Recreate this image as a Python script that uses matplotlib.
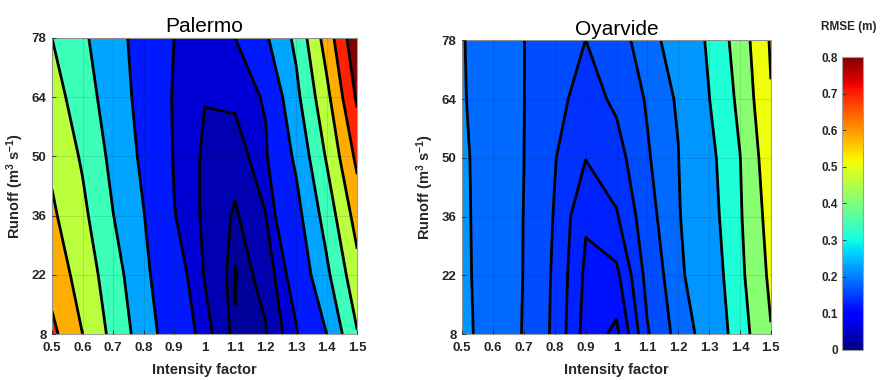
import matplotlib
matplotlib.use("Agg")
import matplotlib.pyplot as plt
import numpy as np

plt.rcParams['font.family'] = ['Liberation Sans', 'DejaVu Sans']
plt.rcParams['mathtext.fontset'] = 'custom'
plt.rcParams['mathtext.rm'] = 'Liberation Sans'
plt.rcParams['mathtext.bf'] = 'Liberation Sans:bold'
plt.rcParams['mathtext.default'] = 'bf'
plt.rcParams['axes.unicode_minus'] = False

# grid of the simulations
intensity = [0.5, 0.6, 0.7, 0.8, 0.9, 1.0, 1.1, 1.2, 1.3, 1.4, 1.5]
runoff = [8, 22, 36, 50, 64, 78]
x_labels = ["0.5", "0.6", "0.7", "0.8", "0.9", "1", "1.1", "1.2", "1.3", "1.4", "1.5"]
cbar_ticks = [0, 0.1, 0.2, 0.3, 0.4, 0.5, 0.6, 0.7, 0.8]
cbar_labels = ["0", "0.1", "0.2", "0.3", "0.4", "0.5", "0.6", "0.7", "0.8"]

# RMSE (m), rows = runoff, columns = intensity factor
rmse_palermo = [
    [0.625, 0.500, 0.372, 0.251, 0.140, 0.083, 0.031, 0.038, 0.095, 0.200, 0.395],
    [0.560, 0.460, 0.343, 0.222, 0.124, 0.068, 0.029, 0.048, 0.124, 0.280, 0.467],
    [0.516, 0.423, 0.302, 0.203, 0.102, 0.064, 0.036, 0.069, 0.167, 0.340, 0.542],
    [0.480, 0.388, 0.273, 0.181, 0.096, 0.065, 0.052, 0.093, 0.217, 0.410, 0.625],
    [0.445, 0.345, 0.252, 0.167, 0.094, 0.071, 0.077, 0.105, 0.275, 0.473, 0.716],
    [0.400, 0.317, 0.234, 0.163, 0.100, 0.080, 0.100, 0.187, 0.322, 0.544, 0.780],
]
rmse_oyarvide = [
    [0.2045, 0.192, 0.179, 0.156, 0.112, 0.095, 0.158, 0.187, 0.211, 0.355, 0.495],
    [0.2035, 0.192, 0.1795, 0.157, 0.116, 0.115, 0.167, 0.1915, 0.232, 0.378, 0.520],
    [0.2033, 0.1915, 0.1797, 0.1587, 0.1222, 0.138, 0.1728, 0.1956, 0.255, 0.390, 0.540],
    [0.203, 0.191, 0.1801, 0.161, 0.1407, 0.152, 0.1778, 0.199, 0.270, 0.398, 0.565],
    [0.2015, 0.1905, 0.1802, 0.1662, 0.152, 0.1637, 0.182, 0.203, 0.298, 0.423, 0.595],
    [0.201, 0.1905, 0.1802, 0.1704, 0.1599, 0.1727, 0.1884, 0.215, 0.314, 0.447, 0.610],
]

# contour levels and the colour value of each filled band
levels_palermo = [0.03, 0.04, 0.07, 0.1, 0.2, 0.3, 0.4, 0.5, 0.6, 0.7]
bands_palermo = [0.0, 0.02, 0.035, 0.06, 0.12, 0.23, 0.34, 0.46, 0.58, 0.7, 0.8]
levels_oyarvide = [0.1, 0.12, 0.14, 0.16, 0.18, 0.2, 0.3, 0.4, 0.5, 0.6]
bands_oyarvide = [0.105, 0.115, 0.125, 0.14, 0.16, 0.184, 0.216, 0.31, 0.41, 0.51, 0.6]

vmax = 0.8
cmap = plt.get_cmap('jet')
txt_col = '#262626'

fig = plt.figure(figsize=(8.82, 3.8), dpi=100)


def panel(rect, z, levels, bands, title):
    ax = fig.add_axes(rect)
    z = np.array(z)
    cols = [cmap(v / vmax) for v in bands]
    ax.contourf(intensity, runoff, z, levels=[-1.0] + levels + [2.0], colors=cols)
    ax.contour(intensity, runoff, z, levels=levels, colors='k', linewidths=2.0)
    ax.set_xlim(0.5, 1.5)
    ax.set_ylim(8, 78)
    ax.set_xticks(intensity)
    ax.set_xticklabels(x_labels)
    ax.set_yticks(runoff)
    ax.tick_params(direction='in', length=3, width=0.6, colors=txt_col,
                   labelsize=9.5)
    ax.tick_params(axis='x', pad=6)
    ax.tick_params(axis='y', pad=4)
    for lab in ax.get_xticklabels() + ax.get_yticklabels():
        lab.set_fontweight('bold')
    ax.grid(True, color='k', alpha=0.12, linewidth=0.6)
    ax.set_axisbelow(False)
    for s in ax.spines.values():
        s.set_color('#a0a0a0')
        s.set_linewidth(0.8)
    ax.set_title(title, fontsize=15, pad=4)
    ax.set_xlabel('Intensity factor', fontsize=10.5, fontweight='bold',
                  color=txt_col, labelpad=6)
    ax.set_ylabel('Runoff (m$^{3}$ s$^{-1}$)', fontsize=10.5, fontweight='bold',
                  color=txt_col, labelpad=4)
    return ax


panel([0.059, 0.121, 0.346, 0.779], rmse_palermo, levels_palermo, bands_palermo, 'Palermo')
panel([0.524, 0.121, 0.350, 0.773], rmse_oyarvide, levels_oyarvide, bands_oyarvide, 'Oyarvide')

cax = fig.add_axes([0.9546, 0.079, 0.0238, 0.771])
sm = plt.cm.ScalarMappable(norm=plt.Normalize(0, vmax), cmap=cmap)
cb = fig.colorbar(sm, cax=cax, ticks=cbar_ticks)
cb.ax.yaxis.set_ticks_position('left')
cb.ax.yaxis.set_label_position('left')
cb.ax.set_yticklabels(cbar_labels)
cb.ax.tick_params(direction='in', length=3, width=0.6, colors=txt_col, labelsize=8.5, pad=3)
for lab in cb.ax.get_yticklabels():
    lab.set_fontweight('bold')
cb.outline.set_edgecolor('#a0a0a0')
cb.outline.set_linewidth(0.8)
fig.text(0.962, 0.93, 'RMSE (m)', fontsize=8.5, fontweight='bold', color=txt_col,
         ha='center', va='center')

fig.savefig('out.png', dpi=100)
